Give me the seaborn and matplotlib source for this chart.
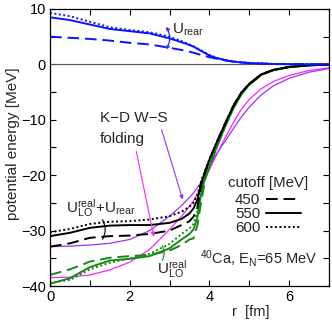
import matplotlib
matplotlib.use("Agg")
import matplotlib.pyplot as plt
import seaborn as sns
import numpy as np
import pandas as pd
from matplotlib.lines import Line2D

sns.set_theme(style="ticks")
plt.rcParams['font.family'] = ['Liberation Sans', 'DejaVu Sans']
plt.rcParams['mathtext.fontset'] = 'custom'
plt.rcParams['mathtext.rm'] = 'Liberation Sans'
plt.rcParams['mathtext.it'] = 'Liberation Sans:italic'
plt.rcParams['mathtext.default'] = 'regular'

# ---- data ----
r = [0, 0.5, 1.0, 1.5, 2.0, 2.5, 3.0, 3.3, 3.5, 3.6, 3.7, 3.8, 3.9, 4.0,
     4.2, 4.4, 4.6, 4.8, 5.0, 5.3, 5.6, 6.0, 6.5, 7.0]

rear_450 = [5.0, 4.8, 4.6, 4.3, 3.9, 3.6, 3.0, 2.6, 2.3, 2.1, 1.9, 1.7, 1.5, 1.3,
            1.0, 0.7, 0.5, 0.35, 0.25, 0.15, 0.08, 0.04, 0.02, 0.0]
rear_550 = [8.5, 8.0, 7.2, 6.4, 6.0, 5.6, 4.7, 4.0, 3.5, 3.2, 2.8, 2.4, 2.0, 1.6,
            1.1, 0.75, 0.5, 0.35, 0.25, 0.15, 0.08, 0.04, 0.02, 0.0]
rear_600 = [9.3, 8.7, 7.7, 6.7, 6.2, 5.8, 5.0, 4.2, 3.6, 3.3, 2.9, 2.5, 2.1, 1.7,
            1.15, 0.8, 0.55, 0.38, 0.27, 0.16, 0.09, 0.04, 0.02, 0.0]

tot_450 = [-32.9, -32.3, -31.3, -31.0, -30.9, -30.6, -30.0, -29.0, -28.3, -27.5, -25.8, -21.5,
           -19.2, -17.2, -13.8, -10.6, -7.5, -5.1, -3.5, -1.8, -1.0, -0.45, -0.15, -0.05]
tot_550 = [-31.0, -30.4, -29.5, -29.1, -29.0, -29.0, -28.6, -27.9, -26.9, -26.0, -24.4, -21.3,
           -19.2, -17.2, -13.8, -10.6, -7.5, -5.1, -3.5, -1.8, -1.0, -0.45, -0.15, -0.05]
tot_600 = [-30.3, -29.7, -28.8, -28.4, -28.3, -28.0, -27.4, -26.6, -25.7, -25.0, -23.5, -20.9,
           -19.0, -17.1, -13.8, -10.6, -7.5, -5.1, -3.5, -1.8, -1.0, -0.45, -0.15, -0.05]

lo_450 = [-38.0, -37.0, -35.6, -34.9, -34.6, -34.4, -33.6, -32.6, -31.6, -31.4, -29.0, -24.5,
          -20.6, -18.5, -14.6, -11.1, -7.9, -5.4, -3.65, -1.9, -1.05, -0.5, -0.17, -0.05]
lo_550 = [-39.6, -38.6, -36.6, -35.4, -35.1, -34.6, -33.2, -31.6, -30.6, -29.8, -27.5, -23.0,
          -20.3, -18.4, -14.6, -11.1, -7.9, -5.4, -3.65, -1.9, -1.05, -0.5, -0.17, -0.05]
lo_600 = [-39.4, -38.9, -37.0, -35.8, -35.0, -34.2, -32.4, -30.6, -29.6, -28.8, -26.5, -22.4,
          -20.1, -18.3, -14.6, -11.1, -7.9, -5.4, -3.65, -1.9, -1.05, -0.5, -0.17, -0.05]

kdws = [-32.9, -32.8, -32.6, -32.3, -31.6, -30.0, -27.4, -25.5, -24.0, -23.2, -22.2, -21.2,
        -19.8, -18.4, -15.9, -13.8, -11.6, -9.5, -7.7, -5.5, -3.9, -2.5, -1.4, -0.75]
folding = [-38.5, -38.4, -38.0, -37.1, -35.7, -33.4, -29.8, -27.4, -25.6, -24.6, -23.4, -22.0,
           -20.5, -19.0, -16.0, -13.2, -10.5, -8.1, -6.3, -4.4, -3.1, -2.0, -1.1, -0.6]

cutoffs = ["450", "550", "600"]
styles = {"450": (0, (6, 3)), "550": "-", "600": (0, (1, 1.3))}

BLUE = "#0a14ff"
GREEN = "#138a13"
PURPLE = "#9b30ff"
MAGENTA = "#ff22ff"

fig = plt.figure(figsize=(3.32, 3.26), dpi=100)
ax = fig.add_axes([50/332, 40/326, 279/332, 277/326])

ax.axhline(0, color="#555555", lw=0.8, zorder=1)

sns.lineplot(x=r, y=folding, ax=ax, color=MAGENTA, lw=0.9, sort=False)
sns.lineplot(x=r, y=kdws, ax=ax, color=PURPLE, lw=0.9, sort=False)

for c, ys in zip(cutoffs, [lo_450, lo_550, lo_600]):
    sns.lineplot(x=r, y=ys, ax=ax, color=GREEN, lw=1.4, linestyle=styles[c], sort=False)
for c, ys in zip(cutoffs, [tot_450, tot_550, tot_600]):
    sns.lineplot(x=r, y=ys, ax=ax, color="black", lw=1.4, linestyle=styles[c], sort=False)
for c, ys in zip(cutoffs, [rear_450, rear_550, rear_600]):
    sns.lineplot(x=r, y=ys, ax=ax, color=BLUE, lw=1.4, linestyle=styles[c], sort=False)

ax.set_xlim(0, 7)
ax.set_ylim(-40, 10)
ax.set_xticks([0, 2, 4, 6])
ax.set_xticks([1, 3, 5, 7], minor=True)
ax.set_yticks([-40, -30, -20, -10, 0, 10])
ax.set_yticks([-35, -25, -15, -5, 5], minor=True)
ax.tick_params(which="both", direction="in", top=True, right=True, length=4, width=0.8,
               labelsize=10.5, pad=3, colors="black")
for s in ax.spines.values():
    s.set_linewidth(0.9)
    s.set_color("black")
ax.set_yticklabels(["\u221240", "\u221230", "\u221220", "\u221210", "0", "10"])

ax.set_ylabel("potential energy [MeV]", fontsize=11)
ax.yaxis.set_label_coords(-0.106, 0.514)
ax.set_xlabel("r  [fm]", fontsize=10.5)
ax.xaxis.set_label_coords(0.72, -0.068)

# legend
handles = [Line2D([], [], color="black", lw=1.4, linestyle=styles[c]) for c in cutoffs]
leg = ax.legend(handles, cutoffs, title="cutoff [MeV]", loc="upper right",
                bbox_to_anchor=(0.93, 0.402), frameon=False, markerfirst=False,
                fontsize=10.8, title_fontsize=10.8, handlelength=2.3, handletextpad=0.4,
                labelspacing=0.0, borderpad=0.1, borderaxespad=0.0)
leg._legend_box.sep = 2

ax.text(5.24, -35.0, r"$^{40}$Ca, E$_{\rm N}$=65 MeV", fontsize=10.5, ha="center", va="center")

# labels with arrows
ax.text(3.05, 6.3, r"U$_{\rm rear}$", fontsize=11, ha="left", va="center")
ax.annotate("", xy=(2.88, 2.3), xytext=(2.88, 7.2),
            arrowprops=dict(arrowstyle="<->", color=BLUE, lw=0.8, mutation_scale=5,
                            connectionstyle="arc3,rad=-0.35"))

ax.text(1.28, -26.0, r"U$_{\rm LO}^{\rm real}$+U$_{\rm rear}$", fontsize=11, ha="center", va="center")
ax.annotate("", xy=(1.28, -32.0), xytext=(1.28, -27.6),
            arrowprops=dict(arrowstyle="-", color="black", lw=0.8,
                            connectionstyle="arc3,rad=-0.35"))

ax.text(2.68, -37.0, r"U$_{\rm LO}^{\rm real}$", fontsize=11, ha="left", va="center")
ax.annotate("", xy=(2.78, -35.8), xytext=(2.78, -32.3),
            arrowprops=dict(arrowstyle="-", color=GREEN, lw=0.8,
                            connectionstyle="arc3,rad=-0.35"))

ax.text(1.25, -9.6, "K\u2212D W\u2212S", fontsize=11, ha="left", va="center")
ax.text(1.25, -13.5, "folding", fontsize=11, ha="left", va="center")
ax.annotate("", xy=(3.35, -24.9), xytext=(2.78, -11.3),
            arrowprops=dict(arrowstyle="-|>", color=PURPLE, lw=0.8, mutation_scale=6))
ax.annotate("", xy=(2.62, -31.6), xytext=(2.15, -15.2),
            arrowprops=dict(arrowstyle="-|>", color=MAGENTA, lw=0.8, mutation_scale=6))

fig.savefig("out.png", dpi=100)
